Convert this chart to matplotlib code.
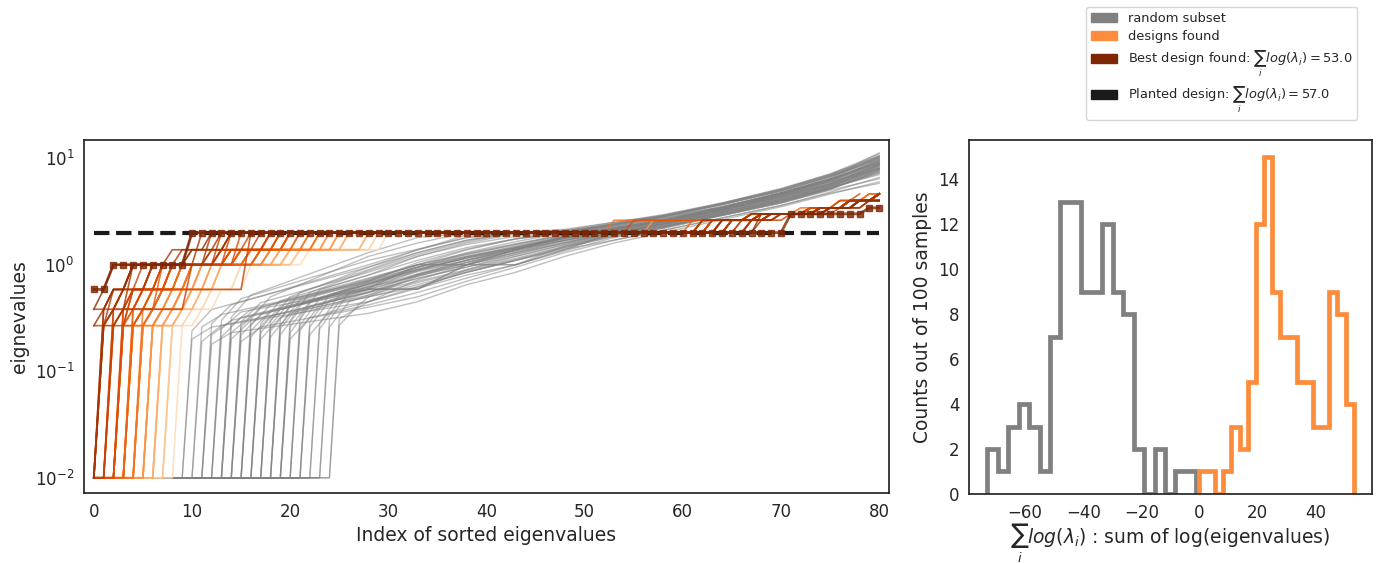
"""Sorted eigenvalue spectra of random subsets vs. found designs, and the
distribution of their log-determinant scores. Agg, writes out.png."""
import numpy as np
import matplotlib
matplotlib.use("Agg")
import matplotlib.pyplot as plt  # noqa: E402
from matplotlib.patches import Patch  # noqa: E402

INK = "#262626"
GRAY, ORANGE, BEST_C, PLANT_C = "#808080", "#fd8d3c", "#7f2704", "#1a1a1a"
plt.rcParams.update({
    "font.family": "DejaVu Sans",
    "text.color": INK, "axes.labelcolor": INK,
    "xtick.color": INK, "ytick.color": INK,
    "axes.edgecolor": INK, "axes.linewidth": 1.25,
    "xtick.major.size": 0, "ytick.major.size": 0,
    "xtick.minor.size": 0, "ytick.minor.size": 0,
    "xtick.major.pad": 7, "ytick.major.pad": 7,
    "xtick.labelsize": 12, "ytick.labelsize": 12,
    "axes.labelsize": 13.5,
})

N_EIG = 81
ZERO_FLOOR = 0.01

# found designs: run lengths of each sorted spectrum over these levels
DESIGN_LEVELS = [ZERO_FLOOR, 0.268, 0.382, 0.586, 1.0, 1.382, 2.0, 2.618, 3.0, 3.414, 4.0, 4.618]
DESIGN_RUNS = [
    [0, 1, 1, 2, 6, 2, 52, 3, 8, 3, 3, 0],
    [0, 0, 2, 14, 0, 0, 50, 2, 6, 4, 3, 0],
    [0, 2, 8, 0, 3, 0, 54, 4, 5, 3, 2, 0],
    [0, 0, 1, 1, 8, 0, 58, 0, 7, 4, 2, 0],
    [1, 1, 1, 1, 8, 0, 55, 2, 6, 3, 3, 0],
    [1, 0, 2, 3, 6, 2, 50, 5, 5, 3, 3, 1],
    [1, 1, 0, 2, 9, 1, 53, 3, 4, 4, 2, 1],
    [1, 2, 1, 0, 4, 6, 48, 6, 6, 3, 3, 1],
    [1, 0, 1, 2, 7, 0, 57, 2, 5, 3, 2, 1],
    [1, 1, 1, 1, 5, 4, 52, 4, 5, 4, 3, 0],
    [2, 1, 2, 2, 6, 3, 49, 4, 5, 4, 2, 1],
    [2, 0, 1, 3, 8, 0, 53, 3, 5, 3, 3, 0],
    [2, 2, 0, 1, 7, 5, 46, 5, 6, 3, 3, 1],
    [2, 1, 1, 2, 4, 8, 48, 3, 5, 3, 3, 1],
    [2, 0, 2, 2, 9, 0, 50, 4, 4, 3, 2, 1],
    [3, 1, 2, 2, 6, 4, 45, 4, 6, 4, 3, 1],
    [3, 2, 1, 1, 8, 3, 47, 3, 5, 4, 3, 1],
    [3, 0, 2, 3, 5, 6, 36, 13, 6, 3, 3, 1],
    [3, 1, 1, 2, 10, 2, 46, 4, 5, 4, 2, 1],
    [3, 2, 2, 0, 6, 7, 42, 6, 6, 3, 3, 1],
    [3, 1, 0, 3, 7, 4, 47, 3, 5, 4, 3, 1],
    [3, 0, 1, 2, 8, 5, 43, 6, 5, 4, 3, 1],
    [4, 1, 2, 2, 6, 5, 43, 4, 6, 4, 3, 1],
    [4, 2, 1, 1, 8, 4, 45, 3, 5, 4, 3, 1],
    [4, 0, 2, 3, 5, 7, 40, 6, 6, 4, 3, 1],
    [4, 1, 1, 2, 9, 3, 44, 5, 5, 3, 3, 1],
    [4, 2, 1, 2, 6, 6, 42, 4, 6, 3, 3, 2],
    [4, 1, 2, 1, 7, 5, 44, 3, 5, 4, 3, 2],
    [4, 0, 1, 3, 8, 4, 43, 5, 5, 4, 3, 1],
    [5, 1, 2, 2, 6, 6, 40, 5, 6, 4, 3, 1],
    [5, 2, 1, 2, 7, 5, 41, 4, 6, 4, 3, 1],
    [5, 1, 1, 2, 9, 4, 42, 4, 5, 4, 3, 1],
    [5, 0, 2, 3, 5, 8, 30, 14, 6, 4, 3, 1],
    [5, 2, 2, 1, 6, 7, 40, 5, 5, 4, 3, 1],
    [5, 1, 1, 3, 8, 5, 41, 4, 5, 4, 3, 1],
    [6, 1, 2, 2, 6, 7, 38, 5, 6, 4, 3, 1],
    [6, 2, 1, 2, 7, 6, 40, 4, 5, 4, 3, 1],
    [6, 1, 2, 3, 5, 8, 32, 10, 6, 4, 3, 1],
    [6, 2, 2, 1, 8, 6, 39, 4, 5, 4, 3, 1],
    [7, 2, 2, 2, 6, 7, 36, 5, 6, 4, 3, 1],
    [7, 1, 2, 3, 7, 6, 37, 5, 5, 4, 3, 1],
    [7, 2, 1, 2, 8, 8, 35, 4, 6, 4, 3, 1],
    [8, 2, 2, 3, 6, 8, 34, 5, 5, 4, 3, 1],
    [8, 1, 2, 2, 8, 7, 35, 5, 6, 3, 3, 1],
    [9, 2, 2, 3, 6, 8, 33, 5, 6, 3, 3, 1],
]

BEST_LEVELS = [0.586, 1.0, 2.0, 3.0, 3.414]
BEST_RUNS = [2, 8, 61, 8, 2]
BEST_SCORE = 53.0
PLANTED_LEVEL = 2.0
PLANTED_SCORE = 57.0

# random subsets: number of zero eigenvalues, then values at the indices
# z + GRAY_OFFSETS followed by GRAY_IDX
GRAY_ZEROS = [10, 10, 11, 11, 12, 12, 12, 13, 13, 13, 14, 14, 14, 14, 15, 15, 15,
              15, 16, 16, 16, 16, 17, 17, 17, 17, 18, 18, 18, 18, 19, 19, 19, 19,
              20, 20, 20, 20, 21, 21, 21, 22, 22, 22, 23, 23, 24, 24, 25, 25]
GRAY_OFFSETS = [0, 2]
GRAY_IDX = [28, 33, 38, 43, 48, 53, 58, 64, 70, 75, 80]
GRAY_VALUES = [
    [0.20, 0.26, 0.45, 0.60, 0.80, 1.00, 1.40, 2.00, 2.30, 2.90, 3.80, 5.00, 6.4],
    [0.24, 0.38, 0.95, 1.30, 1.70, 2.00, 2.00, 2.20, 2.60, 3.30, 4.50, 6.00, 8.0],
    [0.19, 0.27, 0.50, 0.62, 0.85, 1.10, 1.40, 1.70, 2.10, 2.75, 3.60, 4.70, 5.8],
    [0.26, 0.34, 0.70, 0.95, 1.20, 1.45, 1.80, 2.10, 2.50, 3.30, 4.30, 5.70, 8.6],
    [0.22, 0.30, 0.59, 0.80, 1.00, 1.30, 1.60, 2.00, 2.40, 3.00, 4.00, 5.20, 7.2],
    [0.18, 0.23, 0.35, 0.45, 0.65, 0.85, 1.20, 1.60, 2.00, 2.65, 3.50, 4.60, 6.0],
    [0.28, 0.42, 1.00, 1.38, 1.90, 2.00, 2.10, 2.40, 2.80, 3.50, 4.70, 6.40, 9.0],
    [0.21, 0.32, 0.62, 0.78, 1.00, 1.00, 1.50, 1.95, 2.30, 3.00, 4.00, 5.40, 7.5],
    [0.25, 0.36, 0.59, 0.59, 0.90, 1.20, 1.55, 2.00, 2.35, 3.10, 4.10, 5.30, 7.0],
    [0.30, 0.48, 1.10, 1.40, 1.80, 2.00, 2.00, 2.30, 2.70, 3.40, 4.60, 6.20, 9.4],
    [0.20, 0.30, 0.55, 0.75, 0.95, 1.25, 1.60, 2.00, 2.40, 3.10, 4.10, 5.50, 7.8],
    [0.27, 0.38, 0.68, 0.90, 1.15, 1.40, 1.75, 2.05, 2.45, 3.20, 4.30, 5.70, 8.2],
    [0.23, 0.33, 0.59, 0.59, 1.00, 1.00, 1.38, 2.00, 2.25, 3.00, 3.90, 5.20, 7.3],
    [0.32, 0.52, 1.30, 1.80, 2.00, 2.00, 2.10, 2.50, 2.90, 3.70, 4.90, 6.70, 9.6],
    [0.22, 0.34, 0.62, 0.82, 1.05, 1.30, 1.65, 2.00, 2.40, 3.10, 4.10, 5.50, 7.9],
    [0.26, 0.40, 0.75, 1.00, 1.25, 1.55, 1.90, 2.20, 2.55, 3.30, 4.40, 5.80, 8.4],
    [0.19, 0.26, 0.40, 0.50, 0.70, 0.95, 1.30, 1.70, 2.10, 2.75, 3.60, 4.80, 6.6],
    [0.29, 0.44, 0.85, 1.20, 1.55, 1.85, 2.00, 2.30, 2.70, 3.50, 4.70, 6.30, 9.2],
    [0.24, 0.37, 0.66, 0.88, 1.10, 1.38, 1.70, 2.05, 2.40, 3.15, 4.20, 5.60, 8.0],
    [0.21, 0.33, 0.55, 0.70, 0.90, 1.15, 1.50, 1.90, 2.25, 2.95, 3.90, 5.20, 7.4],
    [0.31, 0.50, 1.20, 1.60, 2.00, 2.00, 2.15, 2.50, 2.95, 3.80, 5.10, 6.90, 9.8],
    [0.27, 0.42, 0.72, 1.00, 1.00, 1.40, 1.80, 2.15, 2.50, 3.25, 4.40, 5.80, 8.7],
    [0.23, 0.38, 0.64, 0.86, 1.10, 1.35, 1.70, 2.00, 2.40, 3.10, 4.10, 5.50, 8.1],
    [0.28, 0.46, 0.80, 1.10, 1.45, 1.75, 2.00, 2.35, 2.75, 3.50, 4.70, 6.30, 9.3],
    [0.20, 0.32, 0.50, 0.65, 0.85, 1.10, 1.45, 1.85, 2.20, 2.90, 3.80, 5.10, 7.6],
    [0.25, 0.41, 0.70, 0.95, 1.20, 1.50, 1.85, 2.15, 2.55, 3.30, 4.50, 6.00, 8.9],
    [0.24, 0.40, 0.66, 0.90, 1.15, 1.42, 1.78, 2.10, 2.45, 3.20, 4.30, 5.70, 8.6],
    [0.30, 0.50, 0.95, 1.38, 1.80, 2.00, 2.05, 2.40, 2.85, 3.65, 4.90, 6.70, 10.2],
    [0.21, 0.35, 0.52, 0.68, 0.88, 1.12, 1.48, 1.90, 2.25, 2.95, 3.90, 5.20, 7.8],
    [0.27, 0.45, 0.74, 1.00, 1.28, 1.58, 1.92, 2.25, 2.60, 3.40, 4.60, 6.10, 9.0],
    [0.25, 0.43, 0.68, 0.92, 1.18, 1.45, 1.82, 2.15, 2.50, 3.25, 4.40, 5.80, 8.8],
    [0.22, 0.38, 0.56, 0.74, 0.95, 1.20, 1.55, 1.95, 2.30, 3.00, 4.00, 5.30, 8.0],
    [0.31, 0.55, 0.90, 1.30, 1.70, 2.00, 2.05, 2.45, 2.90, 3.75, 5.10, 7.00, 10.5],
    [0.27, 0.47, 0.72, 1.00, 1.00, 1.38, 1.85, 2.20, 2.60, 3.40, 4.60, 6.20, 9.1],
    [0.26, 0.45, 0.66, 0.90, 1.16, 1.44, 1.80, 2.15, 2.55, 3.30, 4.50, 6.00, 9.0],
    [0.23, 0.41, 0.59, 0.59, 1.00, 1.25, 1.62, 2.00, 2.35, 3.10, 4.20, 5.50, 8.3],
    [0.30, 0.55, 0.88, 1.25, 1.65, 2.00, 2.00, 2.40, 2.85, 3.70, 5.00, 6.80, 10.0],
    [0.20, 0.32, 0.42, 0.55, 0.75, 1.00, 1.35, 1.80, 2.20, 2.90, 3.80, 5.10, 7.7],
    [0.27, 0.48, 0.66, 0.95, 1.25, 1.55, 1.90, 2.25, 2.65, 3.45, 4.70, 6.30, 9.4],
    [0.24, 0.42, 0.58, 0.80, 1.05, 1.35, 1.70, 2.05, 2.45, 3.20, 4.30, 5.70, 8.7],
    [0.32, 0.58, 0.80, 1.20, 1.60, 1.95, 2.00, 2.40, 2.90, 3.80, 5.20, 7.10, 10.3],
    [0.26, 0.46, 0.60, 0.88, 1.18, 1.48, 1.85, 2.20, 2.60, 3.40, 4.60, 6.20, 9.6],
    [0.29, 0.52, 0.70, 1.05, 1.40, 1.75, 2.00, 2.35, 2.80, 3.65, 4.90, 6.70, 10.1],
    [0.22, 0.36, 0.45, 0.62, 0.85, 1.10, 1.45, 1.85, 2.25, 2.95, 3.90, 5.30, 8.5],
    [0.28, 0.52, 0.62, 0.95, 1.30, 1.65, 2.00, 2.35, 2.80, 3.70, 5.00, 6.90, 10.6],
    [0.25, 0.45, 0.55, 0.82, 1.10, 1.40, 1.78, 2.15, 2.55, 3.35, 4.50, 6.10, 9.7],
    [0.30, 0.55, 0.60, 1.00, 1.38, 1.75, 2.00, 2.40, 2.85, 3.75, 5.10, 7.10, 11.0],
    [0.26, 0.45, 0.52, 0.80, 1.10, 1.45, 1.82, 2.20, 2.65, 3.45, 4.70, 6.40, 10.0],
    [0.31, 0.40, 0.45, 0.72, 1.00, 1.30, 1.70, 2.10, 2.55, 3.40, 4.70, 6.50, 11.2],
    [0.27, 0.42, 0.50, 0.78, 1.05, 1.38, 1.76, 2.15, 2.60, 3.45, 4.75, 6.40, 10.4],
]

# score histograms (100 samples each)
RANDOM_COUNTS = [2, 1, 3, 4, 3, 1, 7, 13, 13, 9, 9, 12, 9, 8, 2, 0, 2, 0, 1, 1]
RANDOM_RANGE = (-73.0, -1.1)
DESIGN_COUNTS = [1, 1, 0, 1, 3, 2, 5, 12, 15, 9, 7, 7, 5, 5, 3, 3, 9, 8, 4]
DESIGN_RANGE = (-0.3, BEST_SCORE)


def main():
    fig = plt.figure(figsize=(13.77, 5.63), dpi=100)
    ax0 = fig.add_axes([0.061, 0.1243, 0.5846, 0.627])
    ax1 = fig.add_axes([0.7037, 0.1226, 0.2927, 0.6288])

    # random subsets
    for z, vals in zip(GRAY_ZEROS, GRAY_VALUES):
        xs = [0, z - 1] + [z + o for o in GRAY_OFFSETS] + GRAY_IDX
        ys = [ZERO_FLOOR, ZERO_FLOOR] + vals
        ax0.plot(xs, ys, color=GRAY, lw=1.0, alpha=0.5, zorder=1)

    # found designs, coloured by their log-det score
    spectra = [np.repeat(DESIGN_LEVELS, runs) for runs in DESIGN_RUNS]
    scores = np.array([np.log(s).sum() for s in spectra])
    t = (scores - scores.min()) / (scores.max() - scores.min())
    for k in np.argsort(scores):
        c = plt.cm.Oranges(0.2 + 0.75 * t[k])
        ax0.plot(np.arange(len(spectra[k])), spectra[k], color=c, lw=1.2,
                 alpha=0.8, zorder=2)

    ax0.hlines(PLANTED_LEVEL, 0, N_EIG - 1, colors=PLANT_C, linestyles="--",
               lw=3, zorder=3)
    best = np.repeat(BEST_LEVELS, BEST_RUNS)
    ax0.plot(np.arange(len(best)), best, "-s", color=BEST_C, lw=2, ms=5,
             alpha=0.8, zorder=4)

    ax0.set_yscale("log")
    ax0.set_xlim(-1, 81)
    ax0.set_ylim(0.0072, 14.8)
    ax0.set_xticks(np.arange(0, 81, 10))
    ax0.set_xlabel("Index of sorted eigenvalues")
    ax0.set_ylabel("eignevalues")

    ax1.stairs(RANDOM_COUNTS, np.linspace(*RANDOM_RANGE, len(RANDOM_COUNTS) + 1),
               color=GRAY, lw=3.4, baseline=0)
    ax1.stairs(DESIGN_COUNTS, np.linspace(*DESIGN_RANGE, len(DESIGN_COUNTS) + 1),
               color=ORANGE, lw=3.4, baseline=0)
    ax1.set_xticks([-60, -40, -20, 0, 20, 40])
    ax1.set_yticks(np.arange(0, 15, 2))
    ax1.set_ylabel("Counts out of 100 samples")
    ax1.set_xlabel(r"$\sum_i log(\lambda_i)$ : sum of log(eigenvalues)", labelpad=0)

    handles = [
        Patch(color=GRAY, label="random subset"),
        Patch(color=ORANGE, label="designs found"),
        Patch(color=BEST_C, label=r"Best design found: $\sum_i log(\lambda_i) = %.1f$" % BEST_SCORE),
        Patch(color=PLANT_C, label=r"Planted design: $\sum_i log(\lambda_i) = %.1f$" % PLANTED_SCORE),
    ]
    fig.legend(handles=handles, loc="upper right", bbox_to_anchor=(0.9905, 0.9995),
               fontsize=9.4, labelspacing=0.4)

    fig.savefig("out.png", dpi=100)


if __name__ == "__main__":
    main()
